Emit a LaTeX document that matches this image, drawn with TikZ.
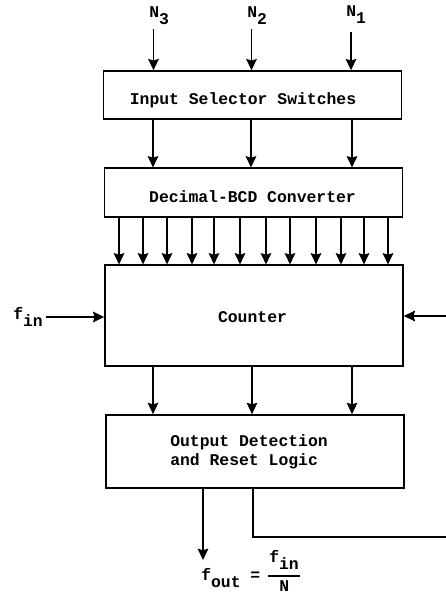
\documentclass[tikz,border=0pt]{standalone}
\usepackage{fontspec}
\setmainfont{Liberation Mono}
\usetikzlibrary{arrows.meta}
\newcommand{\subtxt}[1]{\raisebox{-5.5pt}{#1}}
\tikzset{
  x=0.75pt,y=-0.75pt,
  blockbox/.style={draw,line width=1.1pt,minimum width=223.5pt,inner sep=0pt},
  txt/.style={inner sep=0pt,align=left,font=\fontsize{12.3}{14}\selectfont\bfseries},
  flow/.style={line width=1.1pt,-{Stealth[length=8.5pt,width=8pt,inset=1.2pt]}},
  wire/.style={line width=1.1pt},
}
\begin{document}
\begin{tikzpicture}
\useasboundingbox (0,0) rectangle (446,594);
\node[blockbox,minimum height=36pt] (sel) at (252.5,95) {};
\node[blockbox,minimum height=36.5pt] (conv) at (253.5,192.5) {};
\node[blockbox,minimum height=75.5pt] (cnt) at (254,315.5) {};
\node[blockbox,minimum height=55pt] (det) at (255,451.5) {};
\node[txt] (seltxt) at (243,100) {Input Selector Switches};
\node[txt] (convtxt) at (252.5,197) {Decimal-BCD Converter};
\node[txt] (cnttxt) at (252.5,317) {Counter};
\node[txt] (dettxt) at (249,452) {Output Detection\\and Reset Logic};
\node[txt,anchor=base west] (n3) at (149,17) {N\subtxt{3}};
\node[txt,anchor=base west] (n2) at (247,17) {N\subtxt{2}};
\node[txt,anchor=base west] (n1) at (346,16) {N\subtxt{1}};
\node[txt,anchor=base west] (fin) at (13,319) {f\subtxt{in}};
\node[txt,anchor=base west] (fout) at (201,580) {f\subtxt{out} =};
\node[txt,anchor=base west] (fnum) at (269,562) {f\subtxt{in}};
\node[txt,anchor=base west] (fden) at (279,591) {N};
\coordinate (bara) at (268,576);
\coordinate (barb) at (300,576);
\coordinate (a3) at (153.5,29);
\coordinate (a2) at (251.5,29);
\coordinate (a1) at (351,32);
\coordinate (finstart) at (46,317);
\coordinate (rin) at (446,316);
\coordinate (fbturn) at (446,537);
\coordinate (fbcorner) at (253,537);
\coordinate (outa) at (203,489);
\coordinate (outb) at (203,560);
\draw[flow] (a3) -- (sel.north -| a3);
\draw[flow] (a2) -- (sel.north -| a2);
\draw[flow] (a1) -- (sel.north -| a1);
\foreach \px in {153,251,352}
  \draw[flow] (sel.south -| \px,0) -- (conv.north -| \px,0);
\foreach \px in {119,143,167,192,214,240,266,290,316,341,364,388}
  \draw[flow] (conv.south -| \px,0) -- (cnt.north -| \px,0);
\foreach \px in {153,252,352}
  \draw[flow] (cnt.south -| \px,0) -- (det.north -| \px,0);
\draw[flow] (finstart) -- (cnt.west |- finstart);
\draw[flow] (rin) -- (cnt.east |- rin);
\draw[flow] (det.south -| outa) -- (outb);
\draw[wire] (det.south -| fbcorner) -- (fbcorner) -- (fbturn);
\draw[wire] (bara) -- (barb);
\end{tikzpicture}
\end{document}
